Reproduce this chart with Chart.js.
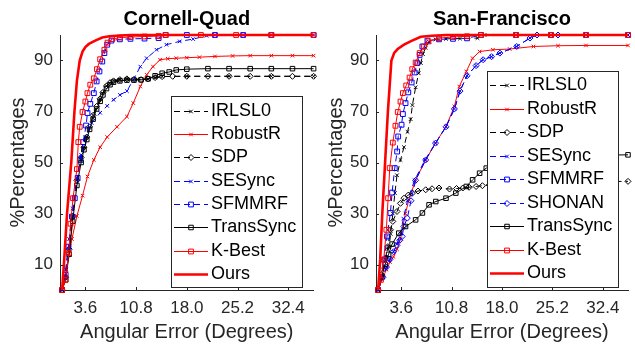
<!DOCTYPE html>
<html>
<head>
<meta charset="utf-8">
<script src="https://cdn.jsdelivr.net/npm/chart.js@4.4.1/dist/chart.umd.min.js"></script>
<style>
html, body { margin: 0; padding: 0; background: #fff; }
#wrap { position: relative; width: 635px; height: 346px; }
canvas { position: absolute; top: 0; }
#cq { left: 0; }
#sf { left: 318px; }
</style>
</head>
<body>
<div id="wrap">
<canvas id="cq" width="318" height="346"></canvas>
<canvas id="sf" width="317" height="346"></canvas>
</div>
<script>
// ===============================
// tick labels
// ===============================
const xTicks = [3.6, 10.8, 18.0, 25.2, 32.4];
const yTicks = [10, 30, 50, 70, 90];

// ===============================
// Cornell-Quad (x = degrees, y = %)
// ===============================
const cqIrlsl0X = [0.3, 0.8, 1.3, 1.8, 2.4, 3.0, 3.8, 4.7, 5.7, 6.6, 7.6, 8.5, 9.5, 11.0, 12.5, 13.5, 14.5, 18.0, 24.0, 30.0, 36.0];
const cqIrlsl0Y = [0, 5, 16, 29, 43, 52, 60, 68.5, 75, 80, 82, 82.5, 82.8, 82.6, 82.8, 83.3, 83.7, 83.8, 83.8, 83.8, 83.8];

const cqRobustX = [0.3, 0.9, 1.7, 2.4, 3.2, 3.9, 4.8, 5.7, 6.7, 8.1, 9.5, 10.4, 11.4, 12.3, 13.2, 14.2, 15.3, 16.5, 18.0, 19.8, 22.0, 24.5, 27.0, 30.0, 33.0, 36.0];
const cqRobustY = [0, 8, 20, 29, 37, 44.5, 51, 56, 60, 64, 68, 73.3, 79.8, 84.4, 87.6, 90.3, 90.7, 90.9, 91.1, 91.3, 91.6, 91.8, 91.9, 91.9, 91.9, 91.9];

const cqSdpX = [0.3, 0.8, 1.3, 1.8, 2.4, 3.0, 3.4, 3.8, 4.2, 4.7, 5.2, 5.7, 6.1, 6.6, 7.1, 7.6, 8.5, 9.5, 10.5, 11.5, 12.5, 13.5, 14.5, 16.0, 18.0, 21.0, 24.0, 27.0, 30.0, 33.0, 36.0];
const cqSdpY = [0, 5, 16, 29, 43, 52, 56, 60, 64, 68.5, 72, 75, 77.5, 80, 81.3, 82, 82.5, 82.8, 82.6, 82.5, 82.8, 83.3, 83.7, 83.8, 83.8, 83.8, 83.8, 83.8, 83.8, 83.8, 83.8];

const cqSesyncX = [0.3, 0.8, 1.3, 1.8, 2.4, 3.0, 3.6, 4.5, 5.7, 6.7, 7.6, 8.5, 9.5, 10.4, 11.4, 12.3, 13.7, 15.1, 17.0, 18.9, 20.8, 22.0, 26.0, 30.0, 36.0];
const cqSesyncY = [0, 8, 20, 32, 44, 53, 60, 65.5, 69.5, 72.2, 74.6, 76.5, 78, 82.4, 87.6, 90.9, 94.2, 96.2, 97.5, 98.4, 99.7, 100, 100, 100, 100];

const cqSfmmrfX = [0.3, 0.8, 1.2, 1.7, 2.1, 2.5, 2.9, 3.3, 3.7, 3.9, 4.3, 4.8, 5.2, 5.6, 6.0, 6.3, 6.7, 7.3, 8.5, 10.0, 12.0, 14.0, 15.0, 18.0, 22.0, 26.0, 30.0, 36.0];
const cqSfmmrfY = [0, 6, 17, 28.8, 36, 44, 51, 58, 64.5, 69.4, 73, 77.2, 81.8, 85.7, 89.6, 92.9, 96.2, 97.8, 98.3, 98.5, 98.6, 98.8, 100, 100, 100, 100, 100, 100];

const cqTransX = [0.3, 0.8, 1.3, 1.8, 2.4, 3.0, 3.4, 3.8, 4.2, 4.7, 5.2, 5.7, 6.1, 6.6, 7.1, 7.6, 8.5, 9.5, 10.5, 11.5, 12.5, 13.5, 14.5, 15.5, 16.5, 18.0, 21.0, 24.0, 27.0, 30.0, 33.0, 36.0];
const cqTransY = [0, 4, 14, 27, 41, 50, 55, 59, 63, 67, 71, 74, 76.5, 79, 80.5, 81.5, 82, 82.3, 82.3, 82.4, 82.8, 84, 85, 85.5, 86.3, 86.6, 86.8, 86.8, 86.8, 86.8, 86.8, 86.8];

const cqKbestX = [0.3, 0.8, 1.25, 1.5, 1.85, 2.4, 2.6, 2.8, 3.2, 3.6, 3.9, 4.3, 4.8, 5.25, 5.7, 6.3, 6.75, 7.4, 8.5, 10.0, 12.0, 14.0, 15.0, 20.0, 25.0, 30.0, 36.0];
const cqKbestY = [0, 4, 14.5, 26, 36, 47.4, 58, 64, 69.8, 73.9, 77.2, 80.5, 83, 86.6, 90.5, 94.2, 97, 98.4, 99, 99.2, 99.4, 99.6, 100, 100, 100, 100, 100];

const cqOursX = [0.3, 0.6, 1.0, 1.6, 2.05, 2.4, 2.8, 3.2, 3.6, 4.1, 5.0, 6.0, 7.0, 8.5, 10.0, 15.0, 20.0, 25.0, 30.0, 36.0];
const cqOursY = [0, 12, 30, 50, 70, 82, 90, 93.5, 95.3, 96.5, 97.8, 99, 99.5, 99.8, 100, 100, 100, 100, 100, 100];

// ===============================
// San-Francisco
// ===============================
const sfIrlsl0X = [0.3, 1.0, 1.5, 1.85, 2.1, 2.4, 2.7, 3.0, 3.5, 4.0, 4.5, 4.95, 5.2, 5.66, 6.1, 6.4, 6.7, 7.1, 7.6, 8.5, 10.0, 12.0, 14.5, 15.5, 20.0, 25.0, 30.0, 36.0];
const sfIrlsl0Y = [0, 8, 13, 17, 22, 30, 38, 45, 51, 56, 62, 67, 72.5, 79.5, 85, 89, 92.5, 95, 97.3, 98.3, 98.5, 98.6, 98.8, 100, 100, 100, 100, 100];

const sfRobustX = [0.3, 1.0, 1.5, 2.0, 2.5, 3.0, 3.5, 4.2, 4.7, 5.66, 7.1, 8.5, 10.0, 11.2, 11.9, 12.9, 13.8, 14.8, 16.7, 19.1, 22.5, 26.0, 30.0, 36.0];
const sfRobustY = [0, 5, 8, 11, 13, 16, 20, 30, 35.4, 43.2, 51, 57.6, 64.1, 72, 79.8, 85.7, 90.9, 93.5, 94.2, 94.5, 95.5, 95.8, 95.9, 95.9];

const sfSdpX = [0.3, 0.8, 1.3, 1.7, 2.06, 2.4, 3.0, 3.5, 4.0, 4.6, 5.2, 6.0, 7.1, 8.0, 9.0, 10.5, 11.5, 12.4, 13.3, 14.3, 15.2, 16.2, 18.0, 20.0, 24.0, 28.0, 32.0, 36.0];
const sfSdpY = [0, 6, 12, 17, 23.6, 26.9, 30.8, 34, 36, 37.2, 38, 38.8, 39.3, 39.7, 40, 39.6, 39.8, 40, 40.3, 40.6, 40.9, 41.2, 41.5, 41.8, 42.1, 42.3, 42.5, 42.6];

const sfSesyncX = [0.3, 1.0, 1.5, 2.0, 2.5, 3.0, 3.5, 3.9, 4.5, 5.5, 7.0, 8.5, 10.0, 11.2, 12.0, 13.0, 14.3, 15.3, 16.5, 17.7, 20.1, 22.0, 23.0, 26.0, 30.0, 36.0];
const sfSesyncY = [0, 5, 9, 12, 15, 18, 22, 28, 35, 43, 51, 57.6, 64, 71, 78, 84, 88, 90.3, 91.5, 92.9, 95.5, 98.8, 100, 100, 100, 100];

const sfSfmmrfX = [0.3, 0.8, 1.2, 1.58, 2.06, 2.3, 2.68, 3.02, 3.17, 3.65, 3.84, 4.22, 4.61, 5.09, 5.52, 5.9, 6.24, 6.63, 7.35, 9.0, 11.0, 13.0, 15.0, 20.0, 25.0, 30.0, 36.0];
const sfSfmmrfY = [0, 5, 12, 21, 30.2, 38.2, 47.8, 54.3, 60.2, 64.8, 69, 73.3, 77.5, 81.4, 85.3, 89, 92.2, 95.5, 97.8, 98.3, 98.5, 98.7, 100, 100, 100, 100, 100];

const sfShonanX = [0.3, 1.0, 1.5, 2.0, 2.5, 3.0, 3.4, 3.74, 3.98, 4.47, 5.0, 5.66, 7.1, 8.5, 10.0, 11.2, 12.0, 13.0, 14.3, 15.3, 16.5, 17.7, 20.1, 22.0, 23.0, 26.0, 30.0, 36.0];
const sfShonanY = [0, 5, 9, 12, 15, 17.5, 19.5, 21, 24.9, 28.2, 35, 43, 51, 57.6, 64, 71, 78, 84, 88, 90.3, 91.5, 92.9, 95.5, 98.8, 100, 100, 100, 100];

const sfTransX = [0.3, 0.8, 1.3, 1.8, 2.3, 3.26, 4.22, 5.66, 6.63, 7.58, 8.54, 10.0, 11.4, 12.9, 13.8, 14.8, 15.75, 17.2, 20.1, 24.9, 28.0, 32.0, 36.0];
const sfTransY = [0, 5, 10, 14, 18, 22.3, 24.9, 27.5, 30.2, 33.4, 34.7, 36, 38, 40.6, 43.2, 45.8, 47.8, 49.8, 51, 52.4, 52.7, 52.9, 53];

const sfKbestX = [0.3, 0.7, 1.1, 1.48, 1.73, 1.96, 2.4, 2.78, 3.11, 3.5, 3.84, 4.32, 4.8, 5.18, 5.66, 6.24, 6.86, 7.49, 9.0, 11.0, 13.0, 15.0, 20.0, 25.0, 30.0, 36.0];
const sfKbestY = [0, 4, 11.8, 23.6, 36, 47.8, 57.8, 64.4, 69.8, 73.9, 77.2, 80.2, 83.3, 86.6, 89.2, 92.9, 95.5, 97.5, 98.8, 99.2, 99.5, 100, 100, 100, 100, 100];

const sfOursX = [0.3, 0.6, 0.9, 1.3, 1.7, 2.0, 2.2, 2.6, 3.1, 4.0, 5.0, 6.4, 8.0, 10.0, 15.0, 20.0, 25.0, 30.0, 36.0];
const sfOursY = [0, 12, 30, 50, 70, 82, 90, 93, 94.5, 96.2, 97.6, 99.3, 99.7, 100, 100, 100, 100, 100, 100];

// ===============================
// styles
// ===============================
const FONT = "'Liberation Sans', Arial, Helvetica, sans-serif";
const AXIS = "#262626";

const styles = {
    "IRLSL0":    { color: "#000000", dash: [6, 4], marker: "crossRot", r: 2.5 },
    "RobustR":   { color: "#ff0000", dash: [], marker: "crossRot", r: 2.5 },
    "SDP":       { color: "#000000", dash: [6, 4], marker: "rectRot", r: 3 },
    "SESync":    { color: "#0000ff", dash: [6, 4], marker: "crossRot", r: 2.5 },
    "SFMMRF":    { color: "#0000ff", dash: [6, 4], marker: "rect", r: 3.4 },
    "SHONAN":    { color: "#0000ff", dash: [6, 4], marker: "rectRot", r: 3 },
    "TransSync": { color: "#000000", dash: [], marker: "rect", r: 3.2 },
    "K-Best":    { color: "#ff0000", dash: [], marker: "rect", r: 3.4 },
    "Ours":      { color: "#ff0000", dash: [], marker: null, r: 0, width: 2.6 }
};

function makeSet(label, xs, ys, i, n) {

    const s = styles[label];

    return {
        label: label,
        data: xs.map((x, k) => ({ x: x, y: ys[k] })),
        borderColor: s.color,
        borderWidth: s.width || 1,
        borderDash: s.dash,
        pointStyle: s.marker || false,
        pointRadius: s.marker ? s.r : 0,
        pointHoverRadius: 0,
        pointBorderColor: s.color,
        pointBackgroundColor: "rgba(0,0,0,0)",
        pointBorderWidth: 1,
        tension: 0,
        clip: 4,
        order: n - i
    };
}

function drawMarker(ctx, style, x, y, r, color) {

    ctx.save();
    ctx.strokeStyle = color;
    ctx.lineWidth = 1;
    ctx.setLineDash([]);
    ctx.beginPath();

    if (style === "rect") {
        const h = r * Math.SQRT1_2;
        ctx.rect(x - h, y - h, 2 * h, 2 * h);
    } else if (style === "rectRot") {
        ctx.moveTo(x, y - r);
        ctx.lineTo(x + r, y);
        ctx.lineTo(x, y + r);
        ctx.lineTo(x - r, y);
        ctx.closePath();
    } else if (style === "crossRot") {
        const h = r * Math.SQRT1_2;
        ctx.moveTo(x - h, y - h);
        ctx.lineTo(x + h, y + h);
        ctx.moveTo(x - h, y + h);
        ctx.lineTo(x + h, y - h);
    }

    ctx.stroke();
    ctx.restore();
}

// ===============================
// plugins: title, inward ticks, boxed legend
// ===============================
const topTitle = {
    id: "topTitle",
    afterDraw(chart, args, opts) {
        const ctx = chart.ctx;
        const a = chart.chartArea;
        ctx.save();
        ctx.font = "bold 20px " + FONT;
        ctx.fillStyle = "#000";
        ctx.textAlign = "center";
        ctx.textBaseline = "middle";
        ctx.fillText(opts.text, (a.left + a.right) / 2, opts.y);
        ctx.restore();
    }
};

const inTicks = {
    id: "inTicks",
    afterDatasetsDraw(chart) {
        const ctx = chart.ctx;
        const a = chart.chartArea;
        const xs = chart.scales.x;
        const ys = chart.scales.y;
        ctx.save();
        ctx.strokeStyle = AXIS;
        ctx.lineWidth = 1;
        ctx.beginPath();
        xTicks.forEach(v => {
            const px = Math.round(xs.getPixelForValue(v)) + 0.5;
            ctx.moveTo(px, a.bottom);
            ctx.lineTo(px, a.bottom - 3);
        });
        yTicks.forEach(v => {
            const py = Math.round(ys.getPixelForValue(v)) + 0.5;
            ctx.moveTo(a.left, py);
            ctx.lineTo(a.left + 3, py);
        });
        ctx.stroke();
        ctx.restore();
    }
};

const boxLegend = {
    id: "boxLegend",
    afterDraw(chart, args, opts) {
        const ctx = chart.ctx;
        ctx.save();
        ctx.fillStyle = "#fff";
        ctx.fillRect(opts.x, opts.y, opts.w, opts.h);
        ctx.strokeStyle = AXIS;
        ctx.lineWidth = 1;
        ctx.strokeRect(opts.x + 0.5, opts.y + 0.5, opts.w, opts.h);
        ctx.font = "18px " + FONT;
        ctx.textBaseline = "middle";
        ctx.textAlign = "left";

        chart.data.datasets.forEach((ds, i) => {
            const y = Math.round(opts.y + opts.first + i * opts.step) + 0.5;
            const x0 = opts.x + 3;
            const x1 = opts.x + 37;
            ctx.strokeStyle = ds.borderColor;
            ctx.lineWidth = ds.borderWidth;
            ctx.setLineDash(ds.borderDash);
            ctx.beginPath();
            ctx.moveTo(x0, y);
            ctx.lineTo(x1, y);
            ctx.stroke();
            ctx.setLineDash([]);
            if (ds.pointRadius > 0) {
                drawMarker(ctx, ds.pointStyle, (x0 + x1) / 2, y, ds.pointRadius, ds.borderColor);
            }
            ctx.fillStyle = "#000";
            ctx.fillText(ds.label, opts.x + 40, y);
        });
        ctx.restore();
    }
};

// ===============================
// build one panel
// ===============================
function makePanel(canvasId, title, sets, yWidth, padRight, legend) {

    const n = sets.length;

    const datasets = sets.map((s, i) => makeSet(s[0], s[1], s[2], i, n));

    return new Chart(document.getElementById(canvasId), {

        type: "line",

        data: { datasets: datasets },

        plugins: [topTitle, inTicks, boxLegend],

        options: {

            responsive: false,
            animation: false,
            devicePixelRatio: 1,
            events: [],

            layout: {
                padding: { top: 35, left: 0, right: padRight, bottom: 0 }
            },

            plugins: {
                legend: { display: false },
                tooltip: { enabled: false },
                topTitle: { text: title, y: 19 },
                boxLegend: legend
            },

            scales: {

                x: {
                    type: "linear",
                    min: 0,
                    max: 36,
                    afterBuildTicks: s => { s.ticks = xTicks.map(v => ({ value: v })); },
                    afterFit: s => { s.height = 56; },
                    grid: { display: false, drawTicks: false },
                    border: { display: true, color: AXIS, width: 1 },
                    ticks: {
                        color: AXIS,
                        font: { size: 17, family: FONT },
                        padding: 8,
                        maxRotation: 0,
                        autoSkip: false,
                        callback: v => Number(v).toFixed(1)
                    },
                    title: {
                        display: true,
                        text: "Angular Error (Degrees)",
                        color: AXIS,
                        font: { size: 20, family: FONT },
                        padding: { top: 0, bottom: 2 }
                    }
                },

                y: {
                    type: "linear",
                    min: 0,
                    max: 100,
                    afterBuildTicks: s => { s.ticks = yTicks.map(v => ({ value: v })); },
                    afterFit: s => { s.width = yWidth; },
                    grid: { display: false, drawTicks: false },
                    border: { display: true, color: AXIS, width: 1 },
                    ticks: {
                        color: AXIS,
                        font: { size: 17, family: FONT },
                        padding: 7,
                        autoSkip: false
                    },
                    title: {
                        display: true,
                        text: "%Percentages",
                        color: AXIS,
                        font: { size: 20, family: FONT },
                        padding: { top: 6, bottom: 0 }
                    }
                }
            }
        }
    });
}

makePanel("cq", "Cornell-Quad", [
    ["IRLSL0", cqIrlsl0X, cqIrlsl0Y],
    ["RobustR", cqRobustX, cqRobustY],
    ["SDP", cqSdpX, cqSdpY],
    ["SESync", cqSesyncX, cqSesyncY],
    ["SFMMRF", cqSfmmrfX, cqSfmmrfY],
    ["TransSync", cqTransX, cqTransY],
    ["K-Best", cqKbestX, cqKbestY],
    ["Ours", cqOursX, cqOursY]
], 60, 4, { x: 171, y: 96, w: 131, h: 191, first: 14.7, step: 23.3 });

makePanel("sf", "San-Francisco", [
    ["IRLSL0", sfIrlsl0X, sfIrlsl0Y],
    ["RobustR", sfRobustX, sfRobustY],
    ["SDP", sfSdpX, sfSdpY],
    ["SESync", sfSesyncX, sfSesyncY],
    ["SFMMRF", sfSfmmrfX, sfSfmmrfY],
    ["SHONAN", sfShonanX, sfShonanY],
    ["TransSync", sfTransX, sfTransY],
    ["K-Best", sfKbestX, sfKbestY],
    ["Ours", sfOursX, sfOursY]
], 58, 7, { x: 169, y: 71, w: 131, h: 216, first: 14, step: 23.5 });
</script>
</body>
</html>
